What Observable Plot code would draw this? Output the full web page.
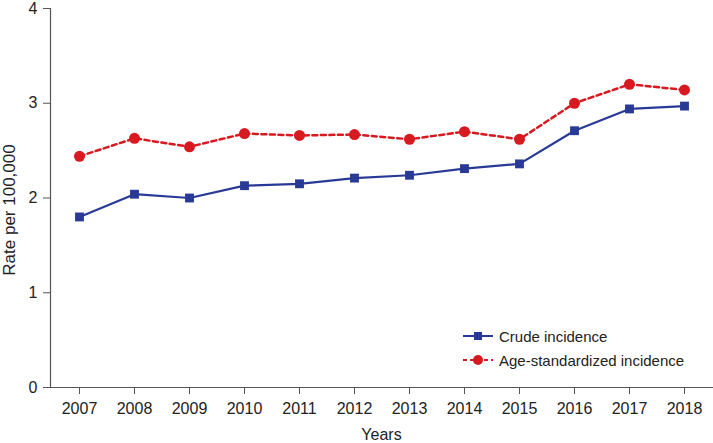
<!DOCTYPE html>
<html>
<head>
<meta charset="utf-8">
<script src="https://cdn.jsdelivr.net/npm/d3@7"></script>
<script src="https://cdn.jsdelivr.net/npm/@observablehq/plot@0.6"></script>
<style>
  html, body { margin: 0; padding: 0; background: #fff; }
  #wrap { position: relative; width: 713px; height: 443px; font-family: "Liberation Sans", Arial, sans-serif; }
  #legend { position: absolute; left: 462px; top: 324px; font-size: 15px; color: #222; }
  .row { display: flex; align-items: center; height: 24px; }
  .row svg { margin-right: 5px; }
</style>
</head>
<body>
<div id="wrap"></div>
<script>
const years = ["2007","2008","2009","2010","2011","2012","2013","2014","2015","2016","2017","2018"];
const crude = [1.80, 2.04, 2.00, 2.13, 2.15, 2.21, 2.24, 2.31, 2.36, 2.71, 2.94, 2.97];
const ageStd = [2.44, 2.63, 2.54, 2.68, 2.66, 2.67, 2.62, 2.70, 2.62, 3.00, 3.20, 3.14];
const yTicks = [0, 1, 2, 3, 4];
const seriesNames = ["Crude incidence", "Age-standardized incidence"];
const xTitle = "Years";
const yTitle = "Rate per 100,000";

const blue = "#283a96";
const red = "#d71920";
const axisColor = "#555";

const crudeData = years.map((y, i) => ({year: y, value: crude[i]}));
const ageData = years.map((y, i) => ({year: y, value: ageStd[i]}));

const chart = Plot.plot({
  width: 713,
  height: 443,
  marginLeft: 50,
  marginTop: 8,
  marginBottom: 56,
  marginRight: 1,
  style: {fontFamily: '"Liberation Sans", Arial, sans-serif', fontSize: "16px", color: "#222", background: "#fff"},
  x: {type: "point", domain: years, padding: 0.5},
  y: {domain: [0, 4]},
  marks: [
    Plot.axisX({tickSize: 7, tickPadding: 8, fontSize: 16, stroke: axisColor, label: xTitle, labelAnchor: "center", labelOffset: 52, color: "#222"}),
    Plot.axisY({ticks: yTicks, tickFormat: d3.format("d"), tickSize: 7, tickPadding: 6, fontSize: 16, stroke: axisColor, label: null, color: "#222"}),
    Plot.text([yTitle], {frameAnchor: "left", textAnchor: "middle", rotate: -90, dx: -41, dy: 12, fontSize: 17, fill: "#222", style: "letter-spacing: 1.2px"}),
    Plot.frame({anchor: "left", stroke: axisColor, strokeWidth: 1.2}),
    Plot.frame({anchor: "bottom", stroke: axisColor, strokeWidth: 1.2}),
    Plot.line(ageData, {x: "year", y: "value", stroke: red, strokeWidth: 2.5, strokeDasharray: "5,3.5"}),
    Plot.dot(ageData, {x: "year", y: "value", fill: red, r: 5.5, symbol: "circle"}),
    Plot.line(crudeData, {x: "year", y: "value", stroke: blue, strokeWidth: 2.2}),
    Plot.dot(crudeData, {x: "year", y: "value", fill: blue, r: 5, symbol: "square"})
  ]
});
document.getElementById("wrap").appendChild(chart);

const legend = document.createElement("div");
legend.id = "legend";
legend.innerHTML = `
  <div class="row"><svg width="32" height="14"><line x1="1" y1="7" x2="31" y2="7" stroke="${blue}" stroke-width="2"/><rect x="12" y="3" width="8" height="8" fill="${blue}"/></svg><span>${seriesNames[0]}</span></div>
  <div class="row"><svg width="32" height="14"><line x1="1" y1="7" x2="31" y2="7" stroke="${red}" stroke-width="2.2" stroke-dasharray="4,3"/><circle cx="16" cy="7" r="5" fill="${red}"/></svg><span>${seriesNames[1]}</span></div>`;
document.getElementById("wrap").appendChild(legend);
</script>
</body>
</html>
